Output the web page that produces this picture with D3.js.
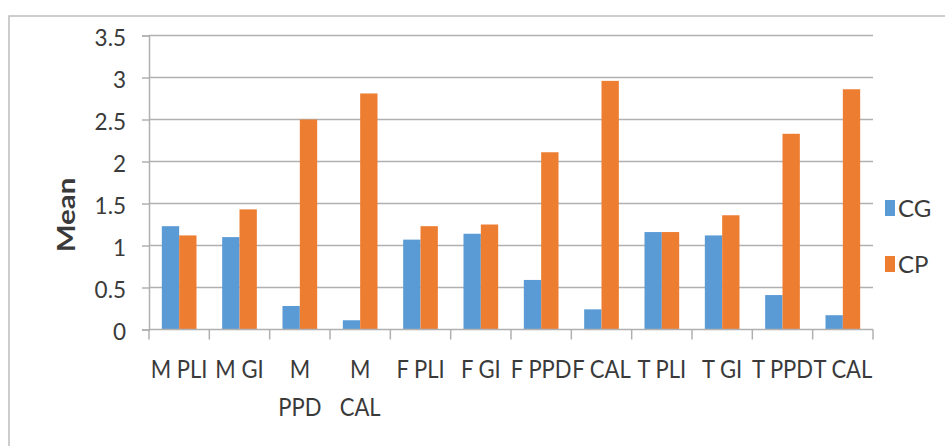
<!DOCTYPE html>
<html>
<head>
<meta charset="utf-8">
<script src="https://cdn.jsdelivr.net/npm/d3@7"></script>
<style>
  html, body { margin: 0; padding: 0; background: #fff; }
  svg { display: block; }
  text { font-family: Lato, "Open Sans", "Liberation Sans", sans-serif; fill: #3a3a3a; }
</style>
</head>
<body>
<svg id="chart" width="945" height="446"></svg>
<script>
// Periodontal indices, mean per group
const categories = ["M PLI", "M GI", "M\nPPD", "M\nCAL", "F PLI", "F GI", "F PPD", "F CAL", "T PLI", "T GI", "T PPD", "T CAL"];
const seriesNames = ["CG", "CP"];
const cgValues = [1.23, 1.10, 0.28, 0.11, 1.07, 1.14, 0.59, 0.24, 1.16, 1.12, 0.41, 0.17];
const cpValues = [1.12, 1.43, 2.50, 2.81, 1.23, 1.25, 2.11, 2.96, 1.16, 1.36, 2.33, 2.86];
const yTicks = [0, 0.5, 1, 1.5, 2, 2.5, 3, 3.5];
const colors = { CG: "#5B9BD5", CP: "#ED7D31" };

const rows = categories.map((c, i) => ({ cat: c, CG: cgValues[i], CP: cpValues[i] }));

const svg = d3.select("#chart");
const plot = { left: 149, right: 873, top: 35.5, bottom: 329.5 };

// Chart area frame
svg.append("rect")
  .attr("x", 9).attr("y", 16)
  .attr("width", 945).attr("height", 446)
  .attr("fill", "none").attr("stroke", "#bdbdbd").attr("stroke-width", 1.5);

const x0 = d3.scaleBand().domain(categories).range([plot.left, plot.right]).padding(0);
const x1 = d3.scaleBand().domain(seriesNames).range([0, x0.bandwidth()])
  .paddingInner(0).paddingOuter(0.74);
const y = d3.scaleLinear().domain([0, 3.5]).range([plot.bottom, plot.top]);

// Gridlines and y axis
const yAxis = d3.axisLeft(y).tickValues(yTicks).tickFormat(d3.format("")).tickSize(7).tickPadding(0);
const yg = svg.append("g").attr("transform", `translate(${plot.left},0)`).call(yAxis);
yg.select(".domain").attr("stroke", "#b0b0b0").attr("stroke-width", 1.5);
yg.selectAll(".tick line").attr("stroke", "#b0b0b0").attr("stroke-width", 1.5);
yg.selectAll(".tick text")
  .attr("x", -23).attr("dy", "0.45em")
  .attr("font-size", 22.5).attr("fill", "#3a3a3a");

svg.append("g").selectAll("line").data(yTicks.filter(d => d > 0)).join("line")
  .attr("x1", plot.left).attr("x2", plot.right)
  .attr("y1", d => y(d)).attr("y2", d => y(d))
  .attr("stroke", "#b0b0b0").attr("stroke-width", 1.5);

// Bars
const groups = svg.append("g").selectAll("g").data(rows).join("g")
  .attr("transform", d => `translate(${x0(d.cat)},0)`);
groups.selectAll("rect")
  .data(d => seriesNames.map(s => ({ s, v: d[s] })))
  .join("rect")
  .attr("x", d => x1(d.s))
  .attr("width", x1.bandwidth())
  .attr("y", d => y(d.v))
  .attr("height", d => y(0) - y(d.v))
  .attr("fill", d => colors[d.s]);

// Category axis
const bounds = categories.map(c => x0(c)).concat([plot.right]);
svg.append("line")
  .attr("x1", plot.left).attr("x2", plot.right)
  .attr("y1", plot.bottom).attr("y2", plot.bottom)
  .attr("stroke", "#b0b0b0").attr("stroke-width", 1.5);
svg.append("g").selectAll("line").data(bounds).join("line")
  .attr("x1", d => d).attr("x2", d => d)
  .attr("y1", plot.bottom).attr("y2", plot.bottom + 10)
  .attr("stroke", "#b0b0b0").attr("stroke-width", 1.5);

const catLabels = svg.append("g").selectAll("text").data(categories).join("text")
  .attr("text-anchor", "middle")
  .attr("font-size", 25)
  .attr("transform", d => `translate(${x0(d) + x0.bandwidth() / 2},378) scale(0.88,1)`);
catLabels.each(function (d) {
  const lines = d.split("\n");
  d3.select(this).selectAll("tspan").data(lines).join("tspan")
    .attr("x", 0).attr("y", (l, i) => i * 38.5).text(l => l);
});

// Axis title
svg.append("text")
  .attr("transform", "translate(75,215) rotate(-90) scale(1.18,1)")
  .attr("text-anchor", "middle")
  .attr("font-size", 25).attr("font-weight", 700)
  .text("Mean");

// Legend
const legend = svg.append("g").selectAll("g").data(seriesNames).join("g")
  .attr("transform", (d, i) => `translate(885,${200 + i * 56})`);
legend.append("rect").attr("width", 10).attr("height", 16).attr("fill", d => colors[d]);
legend.append("text").attr("x", 13).attr("y", 16.5).attr("font-size", 24).text(d => d);
</script>
</body>
</html>
